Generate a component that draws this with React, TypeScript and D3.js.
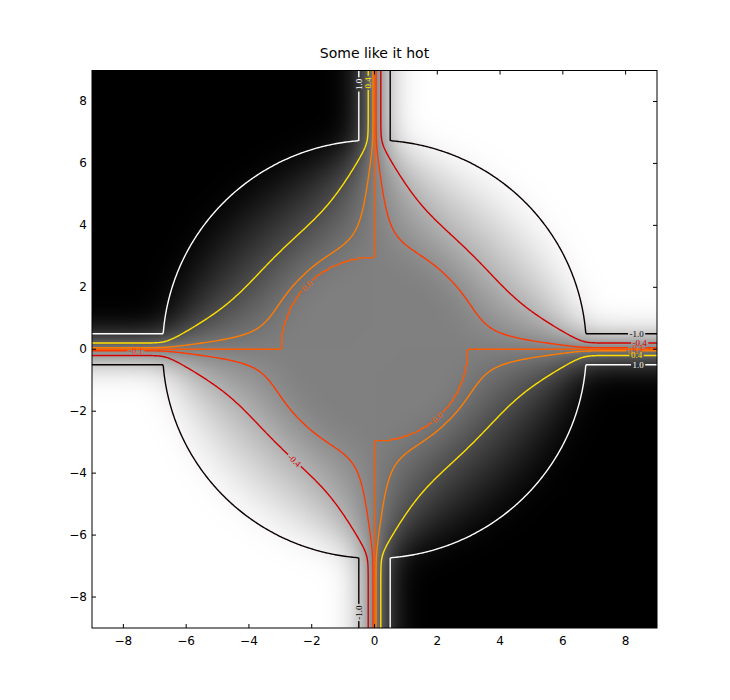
import React, { useMemo } from "react";
import * as d3 from "d3";

// ---------- chart data ----------
const title = "Some like it hot";
const axisExtent = [-9, 9];
const xTickValues = [-8, -6, -4, -2, 0, 2, 4, 6, 8];
const yTickValues = [-8, -6, -4, -2, 0, 2, 4, 6, 8];

// geometry of the field: flat inner disk, walls of the outer disk, and four channels
const innerRadius = 3.0;
const outerRadius = 6.75;
const channelHalfWidth = 0.5;

// contour levels (hot colormap) and their label texts
const contourLevels = [-1.0, -0.4, -0.1, 1e-6, 0.1, 0.4, 1.0];
const contourLevelText = ["-1.0", "-0.4", "-0.1", "0.0", "0.1", "0.4", "1.0"];

// inline contour labels: level index and approximate anchor (data units)
const labelLevel = [6, 5, 0, 1, 2, 4, 5, 6, 2, 0, 1, 3, 3];
const labelX = [-0.5, -0.2, 8.35, 8.45, 8.35, 8.25, 8.35, 8.4, -7.6, -0.5, -2.62, -2.2, 2.02];
const labelY = [8.55, 8.6, 0.5, 0.2, 0.05, -0.05, -0.2, -0.5, -0.05, -8.5, -3.65, 2.06, -2.24];

// ---------- layout ----------
const W = 730;
const H = 700;
const ML = 92;
const MR = 657;
const MT = 70.5;
const MB = 628;

function hot(t: number): string {
  const c = (v: number) => Math.min(1, Math.max(0, v));
  const r = 0.0416 + (1 - 0.0416) * c(t / 0.365079);
  const g = c((t - 0.365079) / (0.746032 - 0.365079));
  const b = c((t - 0.746032) / (1 - 0.746032));
  return d3.rgb(r * 255, g * 255, b * 255).formatHex();
}

function textWidth(s: string, size: number) {
  let w = 0;
  for (const ch of s) {
    if (ch === ".") w += 0.25;
    else if (ch === "-") w += 0.333;
    else w += 0.5;
  }
  return w * size;
}

function buildField(xs: d3.ScaleLinear<number, number>, ys: d3.ScaleLinear<number, number>) {
  const h = 0.05;
  const g0 = -9.5;
  const n = 381;
  const w = channelHalfWidth;
  const R = outerRadius;
  const R0 = innerRadius;
  const coord = (k: number) => Math.round((g0 + k * h) * 1000) / 1000;
  const N2 = n * n;
  const Z = new Float64Array(N2);
  const F1: number[] = new Array(N2);
  const kind = new Uint8Array(N2);
  for (let j = 0; j < n; j++) {
    const y = -coord(j);
    for (let i = 0; i < n; i++) {
      const x = coord(i);
      const k = j * n + i;
      const r = Math.hypot(x, y);
      const s = -Math.sign(x * y);
      const ax = Math.abs(x);
      const ay = Math.abs(y);
      // smooth wall field (signed distance to the domain), clamped inside
      const D = Math.min(r - R, ax - w, ay - w);
      F1[k] = s * Math.max(0, 1 + D);
      const inCh = ax < w - 1e-9 || ay < w - 1e-9;
      if (!(r < R || inCh)) {
        Z[k] = s;
        kind[k] = 2;
        continue;
      }
      if (r <= R0 || x === 0 || y === 0) {
        Z[k] = 0;
        kind[k] = 1;
        continue;
      }
      const ch = ax < w ? (-x / w) * Math.sign(y) : (-y / w) * Math.sign(x);
      if (i === 0 || j === 0 || i === n - 1 || j === n - 1) {
        Z[k] = ch;
        kind[k] = 1;
        continue;
      }
      Z[k] = r >= R ? ch : s * Math.min(1, (r - R0) / (R - R0));
    }
  }
  // Laplace relaxation (SOR) inside the domain
  const unk: number[] = [];
  for (let k = 0; k < N2; k++) if (kind[k] === 0) unk.push(k);
  const idx = Int32Array.from(unk);
  const om = 1.93;
  for (let it = 0; it < 1400; it++) {
    for (let q = 0; q < idx.length; q++) {
      const k = idx[q];
      const v = (Z[k - 1] + Z[k + 1] + Z[k - n] + Z[k + n]) * 0.25;
      Z[k] += om * (v - Z[k]);
    }
  }
  const cv: number[] = new Array(N2);
  for (let k = 0; k < N2; k++) cv[k] = kind[k] === 2 ? Z[k] * 1.5 : Z[k];

  // blurred copy for the image
  const sigma = 0.55 / h;
  const rad = Math.ceil(3 * sigma);
  const ker: number[] = [];
  let ks = 0;
  for (let t = -rad; t <= rad; t++) {
    const v = Math.exp(-(t * t) / (2 * sigma * sigma));
    ker.push(v);
    ks += v;
  }
  for (let t = 0; t < ker.length; t++) ker[t] /= ks;
  const tmp = new Float64Array(N2);
  const B = new Float64Array(N2);
  for (let j = 0; j < n; j++) {
    for (let i = 0; i < n; i++) {
      let s = 0;
      for (let t = -rad; t <= rad; t++) {
        const ii = Math.min(n - 1, Math.max(0, i + t));
        s += Z[j * n + ii] * ker[t + rad];
      }
      tmp[j * n + i] = s;
    }
  }
  for (let j = 0; j < n; j++) {
    for (let i = 0; i < n; i++) {
      let s = 0;
      for (let t = -rad; t <= rad; t++) {
        const jj = Math.min(n - 1, Math.max(0, j + t));
        s += tmp[jj * n + i] * ker[t + rad];
      }
      B[j * n + i] = s;
    }
  }

  // raster image
  const pw = Math.round(MR - ML);
  const ph = Math.round(MB - MT);
  let imageUrl = "";
  if (typeof document !== "undefined") {
    const canvas = document.createElement("canvas");
    canvas.width = pw;
    canvas.height = ph;
    const ctx = canvas.getContext("2d");
    if (ctx) {
      const img = ctx.createImageData(pw, ph);
      for (let py = 0; py < ph; py++) {
        const dy = ys.invert(MT + py + 0.5);
        const gj = (-dy - g0) / h;
        const j0 = Math.max(0, Math.min(n - 2, Math.floor(gj)));
        const fy = gj - j0;
        for (let px = 0; px < pw; px++) {
          const dx = xs.invert(ML + px + 0.5);
          const gi = (dx - g0) / h;
          const i0 = Math.max(0, Math.min(n - 2, Math.floor(gi)));
          const fx = gi - i0;
          const a = B[j0 * n + i0];
          const b = B[j0 * n + i0 + 1];
          const c = B[(j0 + 1) * n + i0];
          const d = B[(j0 + 1) * n + i0 + 1];
          let v = (a * (1 - fx) + b * fx) * (1 - fy) + (c * (1 - fx) + d * fx) * fy;
          v = Math.max(-1, Math.min(1, v));
          const g = Math.round(255 * (0.5 - 0.5 * v));
          const o = (py * pw + px) * 4;
          img.data[o] = g;
          img.data[o + 1] = g;
          img.data[o + 2] = g;
          img.data[o + 3] = 255;
        }
      }
      ctx.putImageData(img, 0, 0);
      imageUrl = canvas.toDataURL();
    }
  }

  // contours: walls (±1) from the smooth wall field, the rest from the relaxed field
  const inner = d3.contours().size([n, n]).thresholds(contourLevels)(cv);
  const walls = d3
    .contours()
    .size([n, n])
    .thresholds([contourLevels[0], contourLevels[contourLevels.length - 1]])(F1);
  const contours = inner.map((c, L) =>
    L === 0 ? walls[0] : L === contourLevels.length - 1 ? walls[1] : c
  );
  const toScreen = (gx: number, gy: number): [number, number] => [
    xs(g0 + (gx - 0.5) * h),
    ys(-(g0 + (gy - 0.5) * h)),
  ];
  const proj = d3.geoTransform({
    point(px: number, py: number) {
      const p = toScreen(px, py);
      (this as any).stream.point(p[0], p[1]);
    },
  });
  const path = d3.geoPath(proj as any);
  const paths = contours.map((c) => path(c as any) || "");

  const labels = labelLevel.map((L, li) => {
    const ax = xs(labelX[li]);
    const ay = ys(labelY[li]);
    let best = Infinity;
    let bx = ax;
    let by = ay;
    let ang = 0;
    const c = contours[L];
    for (const poly of c.coordinates) {
      for (const ring of poly) {
        const m = ring.length;
        for (let q = 0; q < m; q++) {
          const [sx, sy] = toScreen(ring[q][0], ring[q][1]);
          const dd = (sx - ax) ** 2 + (sy - ay) ** 2;
          if (dd < best) {
            best = dd;
            bx = sx;
            by = sy;
            const p1 = toScreen(ring[(q + 4) % m][0], ring[(q + 4) % m][1]);
            const p0 = toScreen(ring[(q - 4 + m) % m][0], ring[(q - 4 + m) % m][1]);
            ang = (Math.atan2(p1[1] - p0[1], p1[0] - p0[0]) * 180) / Math.PI;
          }
        }
      }
    }
    while (ang >= 90) ang -= 180;
    while (ang < -90) ang += 180;
    const text = contourLevelText[L];
    return { level: L, x: bx, y: by, angle: ang, text, tw: textWidth(text, 9) };
  });

  return { imageUrl, paths, labels };
}

export default function App() {
  const xScale = d3.scaleLinear().domain(axisExtent).range([ML, MR]);
  const yScale = d3.scaleLinear().domain(axisExtent).range([MB, MT]);
  const field = useMemo(() => buildField(xScale, yScale), []);
  const levelColor = contourLevels.map((v) =>
    hot((v - contourLevels[0]) / (contourLevels[contourLevels.length - 1] - contourLevels[0]))
  );
  const fmt = (v: number) => String(v).replace("-", "\u2212");

  return (
    <div style={{ position: "absolute", left: 0, top: 0 }}>
      <svg width={W} height={H} style={{ display: "block", background: "#fff" }}>
        <defs>
          <clipPath id="plotclip">
            <rect x={ML} y={MT} width={MR - ML} height={MB - MT} />
          </clipPath>
          {contourLevels.map((_, L) => (
            <mask id={`gap${L}`} key={L} maskUnits="userSpaceOnUse" x={0} y={0} width={W} height={H}>
              <rect x={0} y={0} width={W} height={H} fill="white" />
              {field.labels
                .filter((lb) => lb.level === L)
                .map((lb, q) => (
                  <rect
                    key={q}
                    x={-lb.tw / 2 - 1.5}
                    y={-4.5}
                    width={lb.tw + 3}
                    height={9}
                    fill="black"
                    transform={`translate(${lb.x},${lb.y}) rotate(${lb.angle})`}
                  />
                ))}
            </mask>
          ))}
        </defs>
        <rect x={0} y={0} width={W} height={H} fill="#fff" />
        <text
          x={(ML + MR) / 2}
          y={57.5}
          textAnchor="middle"
          fontFamily="DejaVu Sans, sans-serif"
          fontSize={14}
          fill="#000"
        >
          {title}
        </text>
        <g clipPath="url(#plotclip)">
          {field.imageUrl && (
            <image
              href={field.imageUrl}
              x={ML}
              y={MT}
              width={Math.round(MR - ML)}
              height={Math.round(MB - MT)}
              preserveAspectRatio="none"
            />
          )}
          {field.paths.map((d, L) => (
            <path
              key={L}
              d={d}
              fill="none"
              stroke={levelColor[L]}
              strokeWidth={1.4}
              mask={`url(#gap${L})`}
            />
          ))}
          {field.labels.map((lb, q) => (
            <text
              key={q}
              transform={`translate(${lb.x},${lb.y}) rotate(${lb.angle})`}
              textAnchor="middle"
              dominantBaseline="central"
              fontFamily="Liberation Serif, serif"
              fontSize={9}
              fill={levelColor[lb.level]}
            >
              {lb.text}
            </text>
          ))}
        </g>
        {xTickValues.map((v) => (
          <g key={`xt${v}`}>
            <line x1={xScale(v)} x2={xScale(v)} y1={MB} y2={MB - 4} stroke="#000" strokeWidth={1} />
            <line x1={xScale(v)} x2={xScale(v)} y1={MT} y2={MT + 4} stroke="#000" strokeWidth={1} />
            <text
              x={xScale(v)}
              y={645}
              textAnchor="middle"
              fontFamily="DejaVu Sans, sans-serif"
              fontSize={12}
              fill="#000"
            >
              {fmt(v)}
            </text>
          </g>
        ))}
        {yTickValues.map((v) => (
          <g key={`yt${v}`}>
            <line x1={ML} x2={ML + 4} y1={yScale(v)} y2={yScale(v)} stroke="#000" strokeWidth={1} />
            <line x1={MR} x2={MR - 4} y1={yScale(v)} y2={yScale(v)} stroke="#000" strokeWidth={1} />
            <text
              x={ML - 5}
              y={yScale(v)}
              textAnchor="end"
              dominantBaseline="central"
              fontFamily="DejaVu Sans, sans-serif"
              fontSize={12}
              fill="#000"
            >
              {fmt(v)}
            </text>
          </g>
        ))}
        <rect x={ML} y={MT} width={MR - ML} height={MB - MT} fill="none" stroke="#000" strokeWidth={1} />
      </svg>
    </div>
  );
}
